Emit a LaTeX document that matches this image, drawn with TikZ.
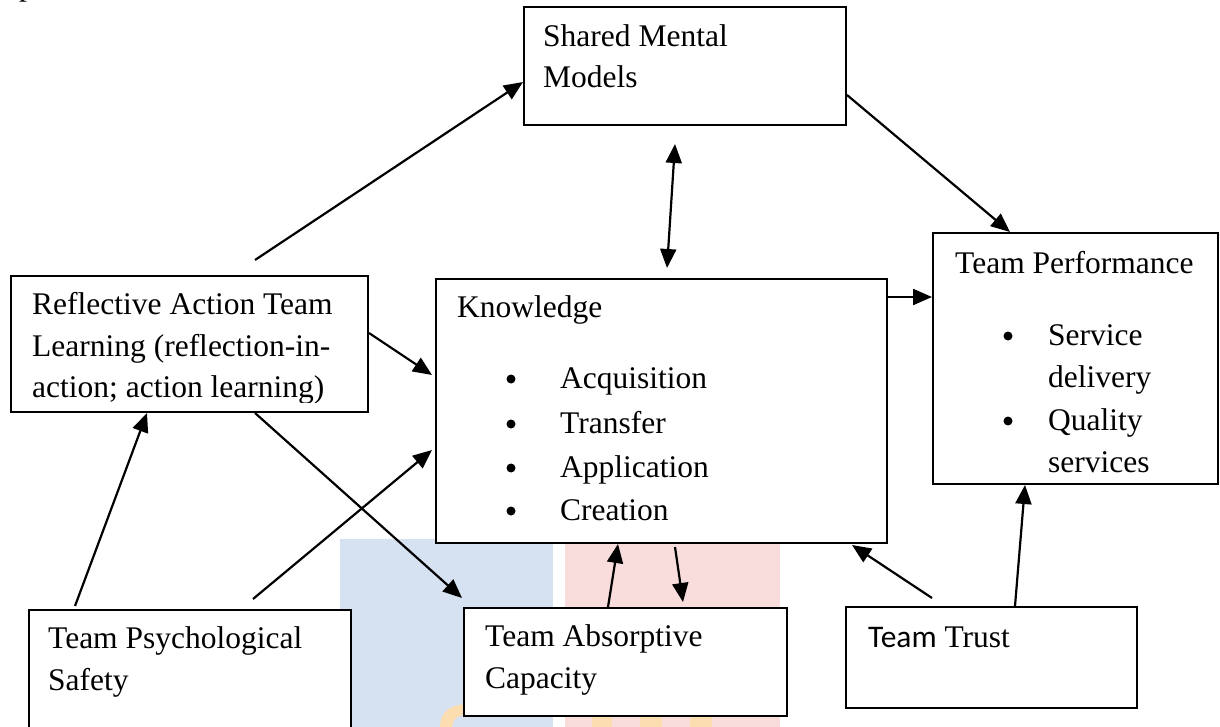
\documentclass[tikz,border=0pt]{standalone}
\usepackage{fontspec}
\setmainfont{Liberation Serif}
\newfontfamily\calib{Carlito}
\usetikzlibrary{arrows.meta}
\definecolor{wmblue}{HTML}{D6E2F1}
\definecolor{wmpink}{HTML}{F9DCDC}
\definecolor{wmorange}{HTML}{FCDDB0}
\begin{document}
\begin{tikzpicture}[x=1pt,y=-1pt,
  box/.style={draw, line width=2pt, rectangle, inner sep=0pt, anchor=north west, fill=white},
  txt/.style={anchor=base west, inner sep=0pt, font=\fontsize{31.5}{38}\selectfont},
  bul/.style={circle, fill=black, inner sep=0pt, minimum size=9pt},
  arr/.style={line width=2.2pt, -{Triangle[length=19pt,width=16pt]}},
  darr/.style={line width=2.2pt, {Triangle[length=19pt,width=16pt]}-{Triangle[length=19pt,width=16pt]}}]
\useasboundingbox (0,0) rectangle (1220,727);
\fill[white] (0,0) rectangle (1220,727);
% watermark
\fill[wmblue] (340,539) rectangle (553,727);
\fill[wmpink] (565,543) rectangle (780,727);
\fill[wmorange] (440,727) .. controls (440,712) and (450,704) .. (470,704) -- (483,704) -- (483,714) -- (470,714) .. controls (458,714) and (452,720) .. (452,727) -- cycle;
\fill[wmorange] (592,716) rectangle (612,727);
\fill[wmorange] (640,716) rectangle (662,727);
\fill[wmorange] (690,716) rectangle (712,727);
% partial letter at top
\node[txt] (ptop) at (19,-4) {p};
% boxes
\node[box, minimum width=322pt, minimum height=118pt] (sm) at (523,6) {};
\node[box, minimum width=451pt, minimum height=264pt] (kn) at (435,278) {};
\node[box, minimum width=285pt, minimum height=251pt] (tp) at (932,232) {};
\node[box, minimum width=357pt, minimum height=136pt] (rf) at (10,275) {};
\node[box, minimum width=322pt, minimum height=140pt] (ps) at (28,609) {};
\node[box, minimum width=323pt, minimum height=108pt] (ab) at (463,607) {};
\node[box, minimum width=291pt, minimum height=101pt] (tt) at (845,606) {};
% texts
\node[txt] (sm1) at (543,47) {Shared Mental};
\node[txt] (sm2) at (543,88) {Models};
\node[txt] (kn0) at (457,317) {Knowledge};
\node[bul] (knb1) at (511,379) {};
\node[bul] (knb2) at (511,424) {};
\node[bul] (knb3) at (511,468) {};
\node[bul] (knb4) at (511,511) {};
\node[txt] (kn1) at (560,388) {Acquisition};
\node[txt] (kn2) at (560,433) {Transfer};
\node[txt] (kn3) at (560,477) {Application};
\node[txt] (kn4) at (560,520) {Creation};
\node[txt] (tp0) at (955,273) {Team Performance};
\node[bul] (tpb1) at (1008,336) {};
\node[bul] (tpb2) at (1008,421) {};
\node[txt] (tp1) at (1048,345) {Service};
\node[txt] (tp2) at (1048,387) {delivery};
\node[txt] (tp3) at (1048,430) {Quality};
\node[txt] (tp4) at (1048,472) {services};
\node[txt] (rf1) at (32,314) {Reflective Action Team};
\node[txt] (rf2) at (32,356) {Learning (reflection-in-};
\begin{scope}
\clip (0,0) rectangle (1220,402);
\node[txt] (rf3) at (32,397) {action; action learning)};
\end{scope}
\node[txt] (ps1) at (48,648) {Team Psychological};
\node[txt] (ps2) at (48,690) {Safety};
\node[txt] (ab1) at (485,646) {Team Absorptive};
\node[txt] (ab2) at (485,688) {Capacity};
\node[txt] (tt1) at (868,647) {{\calib Team} Trust};
% free ends
\coordinate (c1) at (255,260);
\coordinate (c8) at (253,599);
% connectors
\draw[arr] (c1) -- ([shift={(0,76)}]sm.north west);
\draw[arr] ([shift={(0,89)}]sm.north east) -- ([shift={(78,0)}]tp.north west);
\draw[darr] ([shift={(152,18)}]sm.south west) -- ([shift={(232,-10)}]kn.north west);
\draw[arr] ([shift={(0,19)}]kn.north east) -- ([shift={(0,65)}]tp.north west);
\draw[arr] ([shift={(0,58)}]rf.north east) -- ([shift={(-3,97)}]kn.north west);
\draw[arr] ([shift={(245,0)}]rf.south west) -- ([shift={(-1,-9)}]ab.north west);
\draw[arr] ([shift={(47,-3)}]ps.north west) -- ([shift={(137,0)}]rf.south west);
\draw[arr] (c8) -- ([shift={(-3,172)}]kn.north west);
\draw[arr] ([shift={(145,0)}]ab.north west) -- ([shift={(183,0)}]kn.south west);
\draw[arr] ([shift={(240,3)}]kn.south west) -- ([shift={(220,-5)}]ab.north west);
\draw[arr] ([shift={(87,-8)}]tt.north west) -- ([shift={(-36,1)}]kn.south east);
\draw[arr] ([shift={(170,0)}]tt.north west) -- ([shift={(93,0)}]tp.south west);
\end{tikzpicture}
\end{document}
